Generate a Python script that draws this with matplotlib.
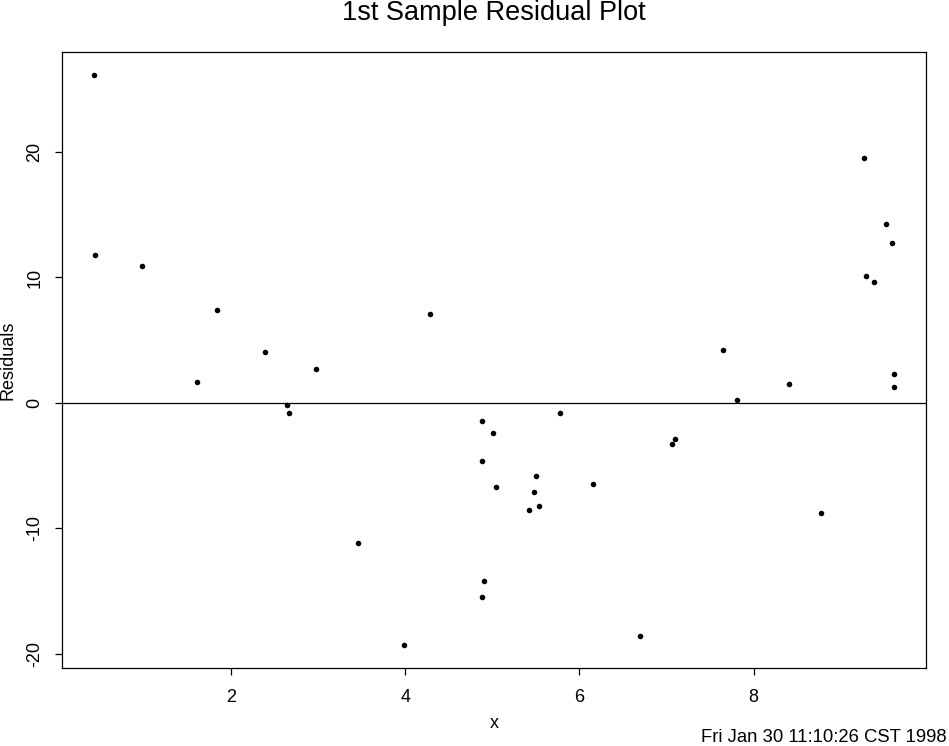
import matplotlib
matplotlib.use("Agg")
import matplotlib.pyplot as plt
import numpy as np

plt.rcParams["font.family"] = ["Liberation Sans", "DejaVu Sans"]

# residuals
x_vals = [0.418, 0.44, 0.98, 1.831, 1.601, 2.383, 2.977, 4.287, 2.636, 2.659,
          3.46, 3.989, 4.877, 5.004, 4.885, 5.498, 5.038, 5.475, 5.418, 5.533,
          5.774, 6.153, 4.90, 4.877, 6.693, 7.096, 7.061, 7.808, 8.774, 8.406,
          9.613, 9.268, 9.521, 9.59, 9.291, 9.387, 7.648, 9.613]
resid = [26.14, 11.78, 10.9, 7.40, 1.65, 4.04, 2.69, 7.08, -0.19, -0.82,
         -11.19, -19.33, -1.46, -2.42, -4.65, -5.85, -6.73, -7.13, -8.56, -8.24,
         -0.82, -6.49, -14.23, -15.5, -18.61, -2.90, -3.30, 0.21, -8.80, 1.49,
         1.25, 19.52, 14.26, 12.74, 10.11, 9.63, 4.20, 2.29]
x_ticks = [2, 4, 6, 8]
y_ticks = [-20, -10, 0, 10, 20]

W, H = 949, 746
fig = plt.figure(figsize=(W / 100, H / 100), dpi=100)
ax = fig.add_axes([61.5 / W, (H - 668) / H, (926 - 61.5) / W, (668 - 52.3) / H])

ax.scatter(x_vals, resid, s=16, c="black", marker="o", linewidths=0)
ax.axhline(0, color="black", lw=0.9)

# R-style 4% padding on each side
xr = max(x_vals) - min(x_vals)
yr = max(resid) - min(resid)
ax.set_xlim(min(x_vals) - 0.04 * xr, max(x_vals) + 0.04 * xr)
ax.set_ylim(min(resid) - 0.04 * yr, max(resid) + 0.04 * yr)

ax.set_xticks(x_ticks)
ax.set_yticks(y_ticks)
ax.set_yticklabels([str(v) for v in y_ticks], rotation=90, va="center")
ax.tick_params(length=5, width=0.9, labelsize=13, colors="black")
ax.tick_params(axis="x", pad=10)
ax.tick_params(axis="y", pad=8)
for s in ax.spines.values():
    s.set_linewidth(0.9)

fig.text(494 / W, 1 - 724 / H, "x", fontsize=13, ha="center", va="center")
fig.text(8 / W, 1 - 360 / H, "Residuals", fontsize=13, rotation=90,
         ha="center", va="center")
fig.text(494 / W, 1 - 20 / H, "1st Sample Residual Plot", fontsize=19.5,
         ha="center", va="baseline")
fig.text(947 / W, 1 - 737 / H, "Fri Jan 30 11:10:26 CST 1998", fontsize=13.3,
         ha="right", va="center")

fig.savefig("out.png", dpi=100)
